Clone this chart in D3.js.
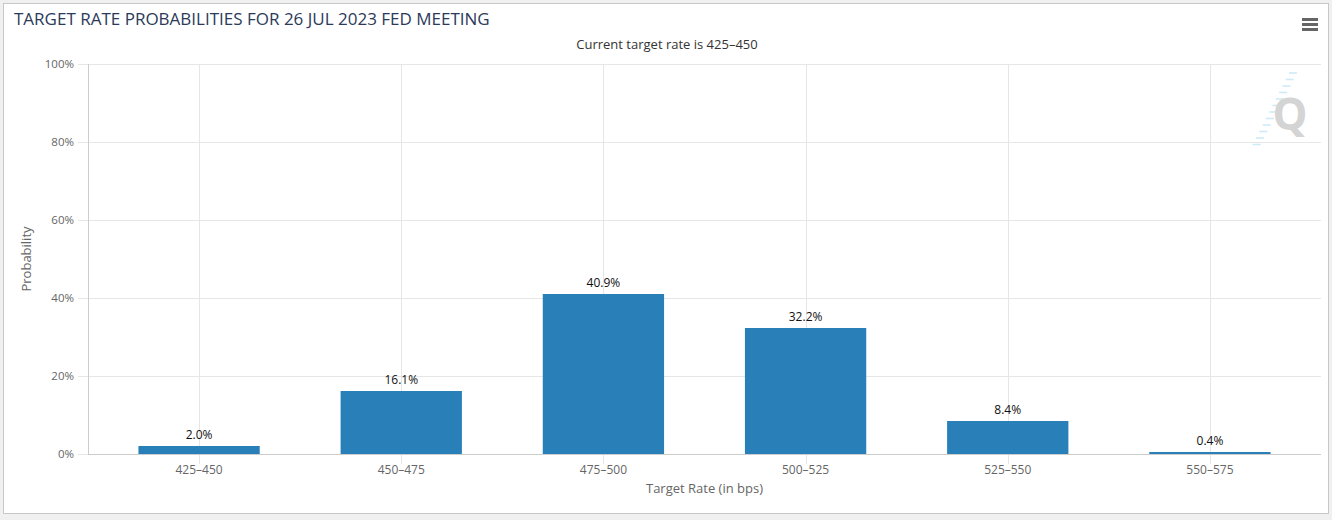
<!DOCTYPE html>
<html>
<head>
<meta charset="utf-8">
<script src="https://cdn.jsdelivr.net/npm/d3@7"></script>
<style>
  body { margin: 0; background: #f0f0f0; }
  text { font-family: "Open Sans", "DejaVu Sans", sans-serif; }
</style>
</head>
<body>
<div id="chart"></div>
<script>
const width = 1332
const height = 520
const margin = {top: 64, bottom: 66, left: 88, right: 11}

// data
const rates = ["425-450", "450-475", "475-500", "500-525", "525-550", "550-575"]
const probs = [2.0, 16.1, 40.9, 32.2, 8.4, 0.4]
const yTicks = [0, 20, 40, 60, 80, 100]

const data = rates.map((r, i) => ({rate: r, p: probs[i]}))

const svg = d3.select("div#chart").append("svg").attr("width", width).attr("height", height)

// frame
svg.append("rect").attr("x", 3.5).attr("y", 3.5).attr("width", 1325).attr("height", 510)
    .attr("fill", "#fff").attr("stroke", "#c8c8c8")

const plotW = width - margin.left - margin.right
const plotH = height - margin.top - margin.bottom

const x = d3.scaleBand().domain(rates).range([margin.left + 10, width - margin.right - 10])
const y = d3.scaleLinear().domain([0, 100]).range([height - margin.bottom, margin.top])

// horizontal grid
svg.append("g").selectAll("line").data(yTicks).enter().append("line")
    .attr("x1", margin.left - 10).attr("x2", width - margin.right)
    .attr("y1", d => Math.round(y(d)) + 0.5).attr("y2", d => Math.round(y(d)) + 0.5)
    .attr("stroke", "#e6e6e6")

// vertical grid at category centers
svg.append("g").selectAll("line").data(rates).enter().append("line")
    .attr("x1", d => Math.round(x(d) + x.bandwidth() / 2) + 0.5)
    .attr("x2", d => Math.round(x(d) + x.bandwidth() / 2) + 0.5)
    .attr("y1", margin.top).attr("y2", height - margin.bottom + 10)
    .attr("stroke", "#e6e6e6")

// y axis line
svg.append("line").attr("x1", margin.left + 0.5).attr("x2", margin.left + 0.5)
    .attr("y1", margin.top).attr("y2", height - margin.bottom).attr("stroke", "#ccc")

// y labels
svg.append("g").selectAll("text").data(yTicks).enter().append("text")
    .attr("x", margin.left - 14).attr("y", d => y(d) + 4)
    .attr("text-anchor", "end").attr("font-size", 11.5).attr("fill", "#666")
    .text(d => d + "%")

// bars
const barW = x.bandwidth() * 0.6
svg.append("g").selectAll("rect").data(data).enter().append("rect")
    .attr("x", d => x(d.rate) + (x.bandwidth() - barW) / 2)
    .attr("y", d => Math.round(y(d.p)))
    .attr("width", barW)
    .attr("height", d => y(0) - Math.round(y(d.p)))
    .attr("fill", "#2980b9")

// data labels
svg.append("g").selectAll("text").data(data).enter().append("text")
    .attr("x", d => x(d.rate) + x.bandwidth() / 2)
    .attr("y", d => y(d.p) - 7)
    .attr("text-anchor", "middle").attr("font-size", 12).attr("fill", "#111")
    .text(d => d.p.toFixed(1) + "%")

// x axis line
svg.append("line").attr("x1", margin.left).attr("x2", width - margin.right)
    .attr("y1", y(0) + 0.5).attr("y2", y(0) + 0.5).attr("stroke", "#ccc")

// x labels
svg.append("g").selectAll("text").data(rates).enter().append("text")
    .attr("x", d => x(d) + x.bandwidth() / 2).attr("y", y(0) + 20)
    .attr("text-anchor", "middle").attr("font-size", 12).attr("fill", "#666")
    .text(d => d.replace("-", "\u2013"))

// axis titles
svg.append("text").attr("x", margin.left + plotW / 2).attr("y", height - 27)
    .attr("text-anchor", "middle").attr("font-size", 13).attr("fill", "#666")
    .text("Target Rate (in bps)")
svg.append("text").attr("transform", `translate(31, ${margin.top + plotH / 2}) rotate(-90)`)
    .attr("text-anchor", "middle").attr("font-size", 13).attr("fill", "#666")
    .text("Probability")

// title + subtitle
svg.append("text").attr("x", 14).attr("y", 25).attr("font-size", 17).attr("fill", "#2b3a5a")
    .text("TARGET RATE PROBABILITIES FOR 26 JUL 2023 FED MEETING")
svg.append("text").attr("x", 667).attr("y", 49).attr("text-anchor", "middle")
    .attr("font-size", 13).attr("fill", "#333")
    .text("Current target rate is 425\u2013450")

// menu icon
svg.append("g").selectAll("line").data([0, 1, 2]).enter().append("line")
    .attr("x1", 1302).attr("x2", 1318)
    .attr("y1", d => 19.5 + d * 5).attr("y2", d => 19.5 + d * 5)
    .attr("stroke", "#666").attr("stroke-width", 3)

// watermark
const wm = svg.append("g").attr("opacity", 0.5)
wm.selectAll("line").data(d3.range(12)).enter().append("line")
    .attr("x1", d => 1297 - d * 3.3 - 8).attr("x2", d => 1297 - d * 3.3)
    .attr("y1", d => 73 + d * 6.5).attr("y2", d => 73 + d * 6.5)
    .attr("stroke", "#9ad6f0").attr("stroke-width", 1.5)
wm.append("text").attr("x", 1290).attr("y", 130).attr("text-anchor", "middle")
    .attr("font-size", 44).attr("font-weight", "bold").attr("fill", "#aaa")
    .attr("font-family", "Liberation Sans, sans-serif").text("Q")
</script>
</body>
</html>
